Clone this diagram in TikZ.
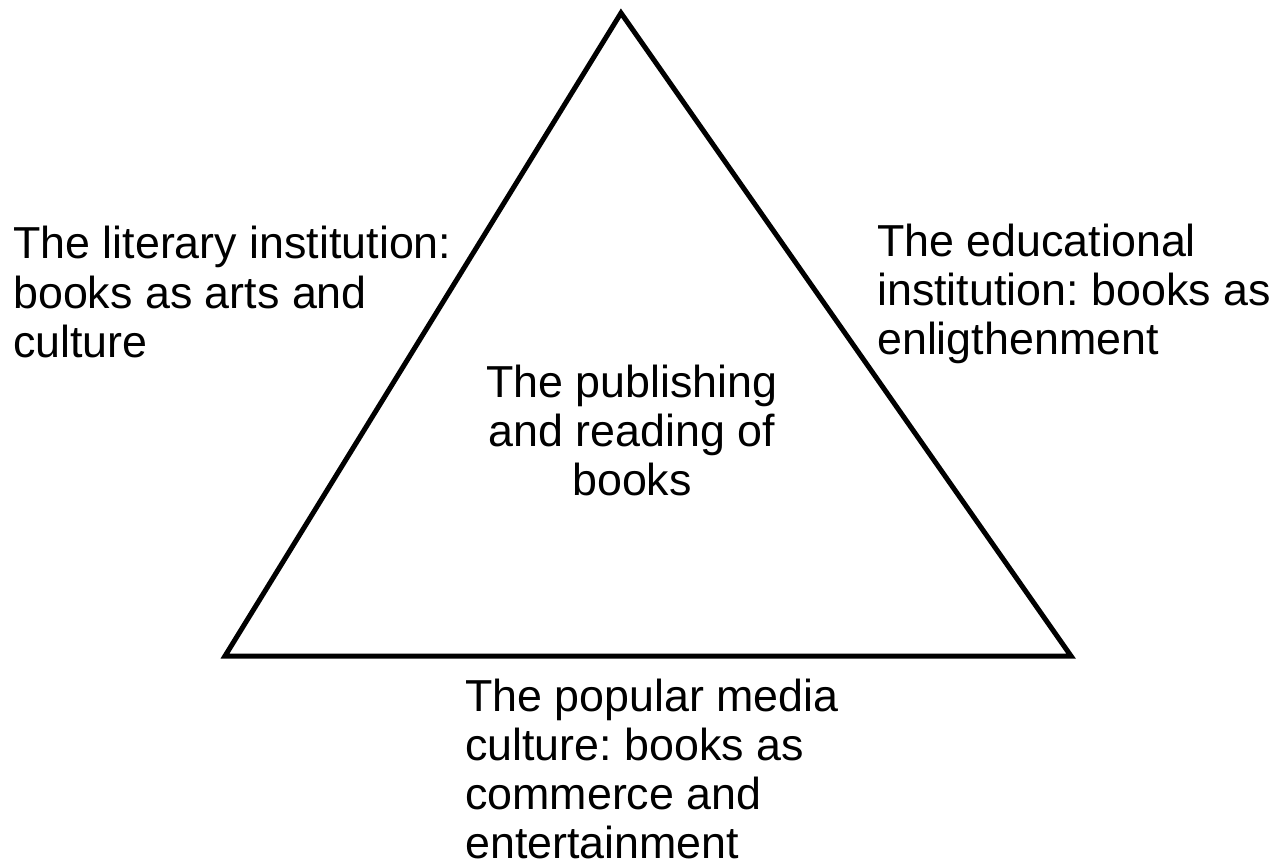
\documentclass[tikz,border=0pt]{standalone}
\usepackage{fontspec}
\setmainfont{Liberation Sans}
\frenchspacing
\begin{document}
\begin{tikzpicture}[x=1pt,y=-1pt,
  lbl/.style={inner sep=0pt,font=\fontsize{44.8}{49}\selectfont},
  tri/.style={line width=5pt,line join=miter,draw=black}]
\useasboundingbox (0,0) rectangle (1279,866);
\coordinate (A) at (621,13);
\coordinate (B) at (225,656);
\coordinate (C) at (1071,656);
\draw[tri] (A) -- (B) -- (C) -- cycle;
\node[lbl,align=left,anchor=base west] (lit) at (13,357) {The literary institution:\\books as arts and\\culture};
\node[lbl,align=left,anchor=base west] (edu) at (877,355) {The educational\\institution: books as\\enligthenment};
\node[lbl,align=center,anchor=base] (pub) at (632,495) {The publishing\\and reading of\\books};
\node[lbl,align=left,anchor=base west] (pop) at (465,858) {The popular media\\culture: books as\\commerce and\\entertainment};
\end{tikzpicture}
\end{document}
